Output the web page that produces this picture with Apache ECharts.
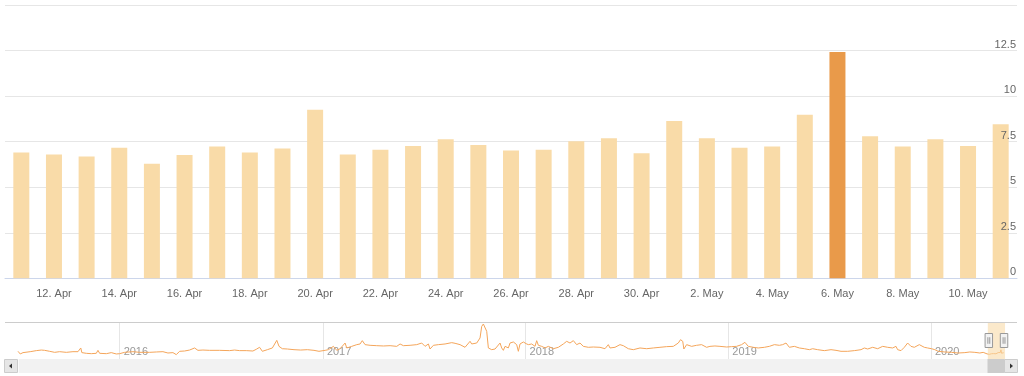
<!DOCTYPE html>
<html><head><meta charset="utf-8">
<script src="https://cdn.jsdelivr.net/npm/echarts@6/dist/echarts.min.js"></script>
<style>html,body{margin:0;padding:0;background:#fff}#c{width:1024px;height:376px}</style>
</head><body><div id="c"></div>
<script>
// ---- data ----
const barDates = ['2020-04-11','2020-04-12','2020-04-13','2020-04-14','2020-04-15','2020-04-16','2020-04-17','2020-04-18','2020-04-19','2020-04-20',
  '2020-04-21','2020-04-22','2020-04-23','2020-04-24','2020-04-25','2020-04-26','2020-04-27','2020-04-28','2020-04-29','2020-04-30',
  '2020-05-01','2020-05-02','2020-05-03','2020-05-04','2020-05-05','2020-05-06','2020-05-07','2020-05-08','2020-05-09','2020-05-10','2020-05-11'];
const barValues = [6.91,6.80,6.69,7.17,6.29,6.77,7.23,6.91,7.12,9.25,
  6.80,7.06,7.26,7.63,7.32,7.01,7.06,7.52,7.69,6.86,
  8.63,7.69,7.17,7.23,8.97,12.42,7.80,7.23,7.63,7.26,8.46];
const highlightDate = '2020-05-06';
const monthNames = ['Jan','Feb','Mar','Apr','May','Jun','Jul','Aug','Sep','Oct','Nov','Dec'];
const yTickStep = 2.5, yMax = 15;

const navDates = ['2015-07-02','2015-07-06','2015-07-11','2015-07-24','2015-08-04','2015-08-13','2015-08-16','2015-08-19','2015-08-28','2015-09-06',
 '2015-09-15','2015-09-27','2015-10-09','2015-10-18','2015-10-23','2015-10-25','2015-11-02','2015-11-11','2015-11-20','2015-11-23',
 '2015-11-26','2015-12-08','2015-12-17','2015-12-20','2015-12-26',
 '2016-01-01','2016-01-10','2016-01-25','2016-02-06','2016-02-24','2016-03-07','2016-03-19','2016-03-28','2016-04-06','2016-04-12',
 '2016-04-18','2016-04-27','2016-05-06','2016-05-15','2016-05-21','2016-05-30','2016-06-11','2016-06-29','2016-07-17','2016-07-26',
 '2016-07-29','2016-08-04','2016-08-16','2016-08-28','2016-09-03','2016-09-09','2016-09-14','2016-09-23','2016-10-02','2016-10-10',
 '2016-10-14','2016-10-20','2016-10-29','2016-11-10','2016-11-22','2016-12-04','2016-12-16','2016-12-25',
 '2017-01-05','2017-01-11','2017-01-20','2017-01-26','2017-02-01','2017-02-10','2017-02-13','2017-02-22','2017-03-03','2017-03-09',
 '2017-03-13','2017-03-18','2017-03-27','2017-04-08','2017-04-20','2017-05-02','2017-05-14','2017-05-20','2017-05-26','2017-06-07',
 '2017-06-19','2017-06-28','2017-07-01','2017-07-04','2017-07-10','2017-07-13','2017-07-19','2017-07-28','2017-08-09','2017-08-21',
 '2017-08-27','2017-09-05','2017-09-14','2017-09-23','2017-09-26','2017-10-05','2017-10-11','2017-10-14','2017-10-17','2017-10-20',
 '2017-10-23','2017-10-26','2017-11-01','2017-11-07','2017-11-16','2017-11-19','2017-11-22','2017-11-25','2017-12-01','2017-12-04',
 '2017-12-10','2017-12-16','2017-12-19','2017-12-22','2017-12-28',
 '2018-01-02','2018-01-06','2018-01-12','2018-01-18','2018-01-21','2018-01-24','2018-01-30','2018-02-05','2018-02-11','2018-02-20',
 '2018-03-01','2018-03-10','2018-03-16','2018-03-19','2018-03-22','2018-03-28','2018-04-03','2018-04-09','2018-04-15','2018-04-24',
 '2018-05-03','2018-05-15','2018-05-24','2018-05-30','2018-06-02','2018-06-11','2018-06-20','2018-06-26','2018-06-29','2018-07-05',
 '2018-07-14','2018-07-26','2018-08-07','2018-08-19','2018-08-31','2018-09-12','2018-09-24','2018-10-03','2018-10-07','2018-10-11',
 '2018-10-13','2018-10-18','2018-10-27','2018-11-05','2018-11-14','2018-11-23','2018-11-29','2018-12-08','2018-12-17','2018-12-29',
 '2019-01-07','2019-01-16','2019-01-25','2019-01-31','2019-02-06','2019-02-15','2019-02-24','2019-03-07','2019-03-16','2019-03-25',
 '2019-03-28','2019-04-03','2019-04-09','2019-04-15','2019-04-18','2019-04-21','2019-04-30','2019-05-09','2019-05-18','2019-05-27',
 '2019-06-02','2019-06-05','2019-06-11','2019-06-23','2019-07-05','2019-07-14','2019-07-23','2019-07-26','2019-08-04','2019-08-16',
 '2019-08-28','2019-09-03','2019-09-09','2019-09-18','2019-09-27','2019-10-06','2019-10-15','2019-10-24','2019-10-30','2019-11-02',
 '2019-11-08','2019-11-14','2019-11-20','2019-11-26','2019-12-02','2019-12-11','2019-12-20','2019-12-26',
 '2020-01-02','2020-01-08','2020-01-14','2020-01-26','2020-02-07','2020-02-19','2020-03-02','2020-03-11','2020-03-20','2020-03-29','2020-04-04'];
const navValues = [10.4,6.8,8.6,9.9,11.3,12.1,13.5,11.7,10.4,9.0,
 9.9,9.0,9.9,9.9,14.9,8.6,7.7,7.2,7.7,11.7,
 7.7,7.2,8.6,10.4,6.8,
 7.2,9.0,9.9,9.0,9.0,9.5,9.9,8.1,8.6,5.9,
 10.4,10.8,12.1,14.9,11.7,12.1,11.7,11.7,11.3,12.1,
 13.5,11.3,11.3,10.8,13.1,15.8,10.4,12.6,14.9,25.2,
 17.1,13.9,13.5,12.6,12.1,12.6,11.7,10.4,
 11.7,12.6,17.1,11.7,13.9,21.6,14.9,17.1,19.4,20.3,
 24.8,19.4,18.5,18.0,17.6,18.0,17.1,20.3,18.0,18.5,
 19.4,21.6,22.5,17.1,20.3,13.5,18.5,19.4,20.3,22.1,
 21.2,19.4,15.8,23.9,20.3,21.6,28.4,44.1,47.3,46.4,
 37.4,14.9,12.6,13.5,21.6,14.9,11.7,17.1,15.0,21.6,
 23.0,19.4,10.4,20.3,23.0,
 20.7,19.4,20.3,17.1,24.8,18.5,17.1,14.9,17.1,13.9,
 15.8,20.3,23.9,26.1,21.6,24.8,19.4,21.6,17.1,15.8,
 16.2,15.8,13.9,19.4,14.9,15.8,19.4,18.0,20.3,13.9,
 12.6,14.9,13.9,14.9,15.8,16.7,17.1,21.6,26.1,23.9,
 13.5,19.4,17.1,18.5,19.4,15.8,17.1,17.6,17.1,16.2,
 16.7,17.1,19.4,22.5,17.1,15.8,14.9,15.8,17.1,19.4,
 21.6,18.5,19.4,21.6,19.4,15.8,17.1,14.9,13.9,12.6,
 13.9,15.8,12.6,11.3,12.6,11.7,10.4,12.1,10.4,11.3,
 12.6,14.9,13.5,15.8,13.9,17.1,15.8,14.9,17.1,12.6,
 11.3,15.8,21.6,17.1,15.8,19.4,15.8,14.9,
 13.9,12.6,10.4,9.5,9.0,8.1,8.6,9.5,9.0,8.1,9.0];

// ---- build ----
const DAY = 86400000;
const t = s => Date.parse(s + 'T00:00:00Z');
const barLabels = barDates.map(d => { const x = new Date(t(d)); return x.getUTCDate() + '. ' + monthNames[x.getUTCMonth()]; });
const navData = navDates.map((d, i) => [t(d), navValues[i]]).concat(barDates.map((d, i) => [t(d), barValues[i]]));
const navMin = t(navDates[0]);
const winStart = t(barDates[0]) - DAY / 2;
const winEnd = t(barDates[barDates.length - 1]) + DAY / 2;
const navMax = winEnd;

const chart = echarts.init(document.getElementById('c'), null, { renderer: 'canvas' });
const showTick = i => i % 2 === 1;
const font = 'Liberation Sans, Arial, sans-serif';

chart.setOption({
  animation: false,
  useUTC: true,
  textStyle: { fontFamily: font },
  grid: [
    { left: 5, right: 7, top: 5, height: 273.3 },
    { left: 18, right: 20, top: 322, height: 37 }
  ],
  xAxis: [
    { type: 'category', gridIndex: 0, data: barLabels, boundaryGap: true,
      axisLine: { lineStyle: { color: '#ccd6eb' } },
      axisTick: { alignWithLabel: true, interval: showTick, length: 9, lineStyle: { color: '#ccd6eb' } },
      axisLabel: { interval: showTick, color: '#666666', fontSize: 11, margin: 10, fontFamily: font },
      splitLine: { show: false } },
    { type: 'time', gridIndex: 1, min: navMin, max: navMax, splitNumber: 5,
      minInterval: 365 * DAY, maxInterval: 366 * DAY,
      axisLine: { show: false }, axisTick: { show: false },
      axisLabel: { inside: true, align: 'left', color: '#999999', fontSize: 11, margin: 2, padding: [0, 0, 0, 4],
        formatter: '{yyyy}', showMinLabel: false, showMaxLabel: false, fontFamily: font },
      splitLine: { show: true, showMinLine: false, showMaxLine: false, lineStyle: { color: '#e6e6e6' } } },
    { type: 'time', gridIndex: 1, min: navMin, max: navMax, show: false }
  ],
  yAxis: [
    { type: 'value', gridIndex: 0, position: 'right', min: 0, max: yMax, interval: yTickStep,
      axisLine: { show: false }, axisTick: { show: false }, axisLabel: { show: false },
      splitLine: { lineStyle: { color: '#e6e6e6' } } },
    { type: 'value', gridIndex: 1, min: 0, max: 50, show: false },
    { type: 'value', gridIndex: 0, position: 'right', min: 0, max: yMax, interval: yTickStep, z: 5,
      axisLine: { show: false }, axisTick: { show: false }, splitLine: { show: false },
      axisLabel: { inside: true, showMaxLabel: false, color: '#666666', fontSize: 11, margin: 1,
        verticalAlign: 'bottom', lineHeight: 12, padding: [0, 0, 0, 0], fontFamily: font } }
  ],
  dataZoom: [
    { type: 'slider', xAxisIndex: 2, filterMode: 'none', startValue: winStart, endValue: winEnd,
      left: 18, right: 20, top: 322, height: 37,
      showDataShadow: false, showDetail: false, brushSelect: false, moveHandleSize: 0,
      backgroundColor: 'rgba(0,0,0,0)', borderColor: 'rgba(0,0,0,0)',
      fillerColor: 'rgba(249,219,168,0.6)',
      handleIcon: 'path://M0,0H8V15H0Z M3,4V11 M5,4V11', handleSize: 14,
      handleStyle: { color: '#f2f2f2', borderColor: '#999999', borderWidth: 1 } },
    { type: 'slider', xAxisIndex: 2, filterMode: 'none', startValue: winStart, endValue: winEnd,
      left: 18, right: 20, top: 359, height: 14,
      showDataShadow: false, showDetail: false, brushSelect: false, moveHandleSize: 0,
      backgroundColor: '#f2f2f2', borderColor: 'rgba(0,0,0,0)', fillerColor: '#cccccc',
      handleSize: 0, handleStyle: { opacity: 0 } }
  ],
  series: [
    { type: 'bar', xAxisIndex: 0, yAxisIndex: 0, barWidth: 16,
      data: barValues.map((v, i) => barDates[i] === highlightDate
        ? { value: v, itemStyle: { color: '#e99a4a' } } : v),
      itemStyle: { color: '#f9dba8' } },
    { type: 'line', xAxisIndex: 1, yAxisIndex: 1, showSymbol: false, data: navData,
      lineStyle: { color: '#f4a55a', width: 1 }, itemStyle: { color: '#f4a55a' } }
  ]
});

// decorations: navigator outline, scrollbar buttons and thumb grip
const gx0 = chart.convertToPixel({ xAxisIndex: 1 }, winStart);
const gx1 = chart.convertToPixel({ xAxisIndex: 1 }, winEnd);
const cx = Math.round((gx0 + gx1) / 2);
chart.setOption({
  graphic: [
    { type: 'line', shape: { x1: 5, y1: 322.5, x2: 1017, y2: 322.5 }, style: { stroke: '#cccccc', lineWidth: 1 }, z: 10 },
    { type: 'rect', shape: { x: 4.5, y: 359.5, width: 13, height: 13 }, style: { fill: '#e6e6e6', stroke: '#cccccc' }, z: 10 },
    { type: 'polygon', shape: { points: [[9, 366], [12, 363.5], [12, 368.5]] }, style: { fill: '#333333' }, z: 11 },
    { type: 'rect', shape: { x: 1004.5, y: 359.5, width: 13, height: 13 }, style: { fill: '#e6e6e6', stroke: '#cccccc' }, z: 10 },
    { type: 'polygon', shape: { points: [[1010, 363.5], [1013, 366], [1010, 368.5]] }, style: { fill: '#333333' }, z: 11 },
    { type: 'group', z: 11, children: [
      { type: 'line', shape: { x1: cx - 2.5, y1: 363, x2: cx - 2.5, y2: 369 }, style: { stroke: '#333', lineWidth: 1 } },
      { type: 'line', shape: { x1: cx + 0.5, y1: 363, x2: cx + 0.5, y2: 369 }, style: { stroke: '#333', lineWidth: 1 } },
      { type: 'line', shape: { x1: cx + 3.5, y1: 363, x2: cx + 3.5, y2: 369 }, style: { stroke: '#333', lineWidth: 1 } }
    ] }
  ]
});
</script>
</body></html>
